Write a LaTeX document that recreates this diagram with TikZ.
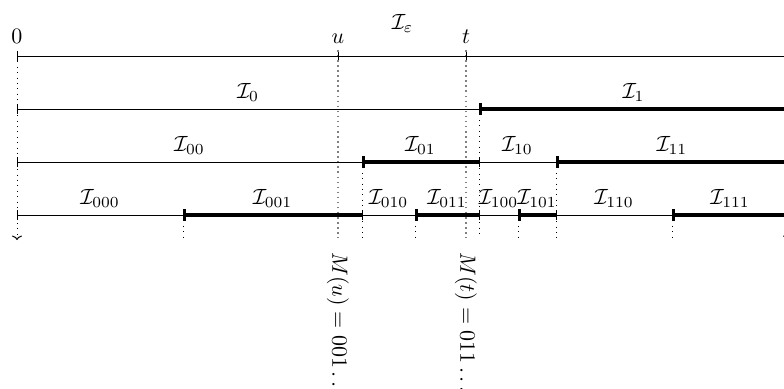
\documentclass[tikz,border=0pt]{standalone}
\usetikzlibrary{arrows.meta}
\begin{document}
\begin{tikzpicture}[x=0.4545pt,y=-0.4545pt,
  thinseg/.style={line width=0.45pt,{Bar[width=4.5pt,line width=0.45pt]}-},
  thickseg/.style={line width=1.5pt,{Bar[width=5.5pt,line width=1.5pt]}-},
  lab/.style={anchor=base,inner sep=0pt},
  guide/.style={dotted,line width=0.45pt},
  gguide/.style={gray,line width=0.7pt,dash pattern=on 0.7pt off 1.6pt},
  mlab/.style={rotate=-90,anchor=west,inner sep=0pt}]
\useasboundingbox (0,0) rectangle (784,389);
% row coordinates
\coordinate (r0a) at (17,56);  \coordinate (r0e) at (788,56);
\coordinate (r1a) at (17,109); \coordinate (r1p) at (479,109); \coordinate (r1e) at (788,109);
\coordinate (r2a) at (17,162); \coordinate (r2q) at (362,162); \coordinate (r2p) at (479,162);
\coordinate (r2s) at (556,162); \coordinate (r2e) at (788,162);
\coordinate (r3a) at (17,215); \coordinate (r3b) at (183,215); \coordinate (r3q) at (362,215);
\coordinate (r3c) at (415,215); \coordinate (r3p) at (479,215); \coordinate (r3d) at (518,215);
\coordinate (r3s) at (556,215); \coordinate (r3f) at (672,215); \coordinate (r3e) at (788,215);
% bottom ends of guides
\coordinate (ba) at (17,240); \coordinate (be) at (788,240);
\coordinate (bp) at (479,238); \coordinate (bq) at (362,238); \coordinate (bs) at (556,238);
\coordinate (bb) at (183,238); \coordinate (bc) at (415,238); \coordinate (bd) at (518,238);
\coordinate (bf) at (672,238);
\coordinate (ut) at (338,50); \coordinate (ub) at (338,238);
\coordinate (tt) at (466,50); \coordinate (tb) at (466,238);
% guides
\draw[guide,-{To[length=2pt,width=4.5pt]}] (r0a) -- (ba);
\draw[guide,-{To[length=2pt,width=4.5pt]}] (r0e) -- (be);
\draw[guide] (r1p) -- (bp);
\draw[guide] (r2q) -- (bq);
\draw[guide] (r2s) -- (bs);
\draw[guide] (r3b) -- (bb);
\draw[guide] (r3c) -- (bc);
\draw[guide] (r3d) -- (bd);
\draw[guide] (r3f) -- (bf);
\draw[gguide] (ut) -- (ub);
\draw[gguide] (tt) -- (tb);
% row 0
\draw[thinseg] (r0a) -- (r0e);
\draw[line width=0.45pt] (338,52) -- (338,60);
\draw[line width=0.45pt] (466,52) -- (466,60);
% row 1
\draw[thinseg] (r1a) -- (r1p);
\draw[thickseg] (r1p) -- (r1e);
% row 2
\draw[thinseg] (r2a) -- (r2q);
\draw[thickseg] (r2q) -- (r2p);
\draw[thinseg] (r2p) -- (r2s);
\draw[thickseg] (r2s) -- (r2e);
% row 3
\draw[thinseg] (r3a) -- (r3b);
\draw[thickseg] (r3b) -- (r3q);
\draw[thinseg] (r3q) -- (r3c);
\draw[thickseg] (r3c) -- (r3p);
\draw[thinseg] (r3p) -- (r3d);
\draw[thickseg] (r3d) -- (r3s);
\draw[thinseg] (r3s) -- (r3f);
\draw[thickseg] (r3f) -- (r3e);
% point labels
\node[lab] (l0) at (17,43) {$0$};
\node[lab] (lu) at (338,43) {$u$};
\node[lab] (lt) at (466,43) {$t$};
\node[lab] (l1) at (788,43) {$1$};
\node[lab] (le) at (402.5,29) {$\mathcal{I}_\varepsilon$};
% interval labels
\node[lab] (i0) at (248,98) {$\mathcal{I}_{0}$};
\node[lab] (i1) at (633.5,98) {$\mathcal{I}_{1}$};
\node[lab] (i00) at (189.5,151) {$\mathcal{I}_{00}$};
\node[lab] (i01) at (420.5,151) {$\mathcal{I}_{01}$};
\node[lab] (i10) at (517.5,151) {$\mathcal{I}_{10}$};
\node[lab] (i11) at (672,151) {$\mathcal{I}_{11}$};
\node[lab] (i000) at (100,204) {$\mathcal{I}_{000}$};
\node[lab] (i001) at (272.5,204) {$\mathcal{I}_{001}$};
\node[lab] (i010) at (388.5,204) {$\mathcal{I}_{010}$};
\node[lab] (i011) at (447,204) {$\mathcal{I}_{011}$};
\node[lab] (i100) at (498.5,204) {$\mathcal{I}_{100}$};
\node[lab] (i101) at (537,204) {$\mathcal{I}_{101}$};
\node[lab] (i110) at (614,204) {$\mathcal{I}_{110}$};
\node[lab] (i111) at (730,204) {$\mathcal{I}_{111}$};
% M labels
\node[mlab] (mu) at (338,252) {$M(u) = 001\ldots$};
\node[mlab] (mt) at (466,252) {$M(t) = 011\ldots$};
\end{tikzpicture}
\end{document}
